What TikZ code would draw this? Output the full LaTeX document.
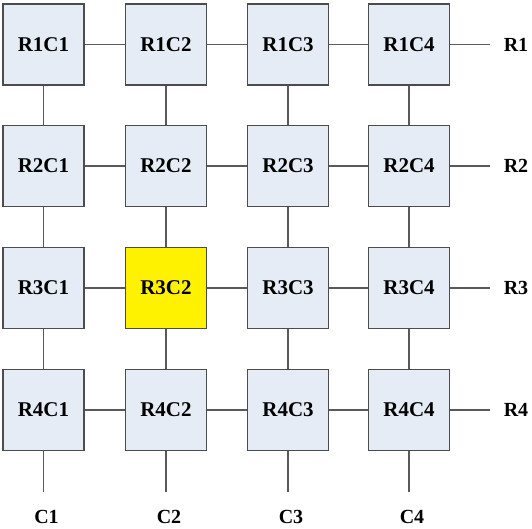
\documentclass[tikz,border=0pt]{standalone}
\usepackage{fontspec}
\setmainfont{Liberation Serif}
\begin{document}
\begin{tikzpicture}[x=1pt,y=1pt,
  cell/.style={draw=black!70,line width=1.4pt,fill=boxblue,minimum width=81pt,minimum height=81pt,inner sep=0pt,font=\fontsize{21}{21}\selectfont\bfseries},
  hot/.style={cell,fill=yellow},
  lab/.style={inner sep=0pt,font=\fontsize{20}{20}\selectfont\bfseries},
  link/.style={draw=black!65,line width=1.6pt}]
\definecolor{boxblue}{HTML}{E6ECF6}
\useasboundingbox (0,0) rectangle (532,529);
% column x: 43.5,166,288,409 ; row y (from top): 44.5,166,288,410
\foreach \r/\yy in {1/484.5,2/363,3/241,4/119}{
  \foreach \c/\xx in {1/43.5,2/166,3/288,4/409}{
    \ifnum\r=3 \ifnum\c=2
      \node[hot] (R\r C\c) at (\xx,\yy) {R\r C\c};
    \else
      \node[cell] (R\r C\c) at (\xx,\yy) {R\r C\c};
    \fi\else
      \node[cell] (R\r C\c) at (\xx,\yy) {R\r C\c};
    \fi
  }
  \coordinate (e\r) at (490,\yy);
  \node[lab] (lr\r) at (516,\yy) {R\r};
}
\foreach \c/\xx in {1/43.5,2/166,3/288,4/409}{
  \coordinate (f\c) at (\xx,37);
  \node[lab] (lc\c) at (\xx+3,12) {C\c};
}
\foreach \r in {1,2,3,4}{
  \draw[link] (R\r C1) -- (R\r C2);
  \draw[link] (R\r C2) -- (R\r C3);
  \draw[link] (R\r C3) -- (R\r C4);
  \draw[link] (R\r C4) -- (e\r);
}
\foreach \c in {1,2,3,4}{
  \draw[link] (R1C\c) -- (R2C\c);
  \draw[link] (R2C\c) -- (R3C\c);
  \draw[link] (R3C\c) -- (R4C\c);
  \draw[link] (R4C\c) -- (f\c);
}
\end{tikzpicture}
\end{document}
